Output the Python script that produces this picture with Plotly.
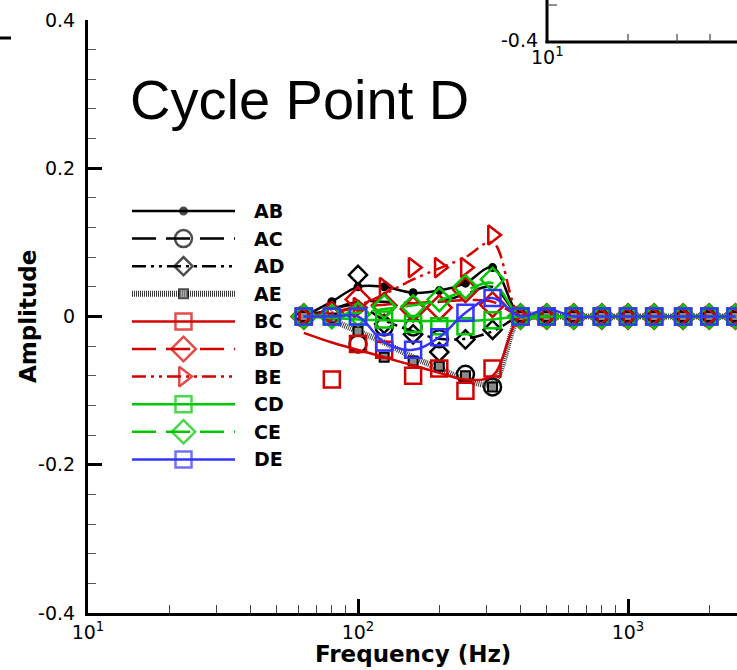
import plotly.graph_objects as go

# ---------------- data ----------------
freq = [63, 80, 100, 125, 160, 200, 250, 315, 400, 500, 630, 800, 1000, 1250, 1600, 2000, 2500]
names = ["AB", "AC", "AD", "AE", "BC", "BD", "BE", "CD", "CE", "DE"]

# marker values
ab_pts = [0, 0.02, 0.04, 0.04, 0.032, 0.035, 0.045, 0.066, 0, 0, 0, 0, 0, 0, 0, 0, 0]
ac_pts = [0, 0.0, -0.037, -0.014, -0.014, -0.03, -0.078, -0.095, 0, 0, 0, 0, 0, 0, 0, 0, 0]
ad_pts = [0, 0.003, 0.056, -0.01, -0.024, -0.048, -0.031, -0.018, 0, 0, 0, 0, 0, 0, 0, 0, 0]
ae_pts = [0, -0.002, -0.02, -0.055, -0.06, -0.067, -0.08, -0.095, 0, 0, 0, 0, 0, 0, 0, 0, 0]
bc_pts = [0, -0.085, -0.037, -0.045, -0.08, -0.07, -0.1, -0.07, 0, 0, 0, 0, 0, 0, 0, 0, 0]
bd_pts = [0, 0.003, 0.023, 0.015, 0.01, 0.012, 0.036, 0.016, 0, 0, 0, 0, 0, 0, 0, 0, 0]
be_pts = [0, 0.005, 0.012, 0.039, 0.066, 0.066, 0.066, 0.11, 0, 0, 0, 0, 0, 0, 0, 0, 0]
cd_pts = [0, 0, 0, -0.004, -0.01, -0.013, -0.013, -0.005, 0, 0, 0, 0, 0, 0, 0, 0, 0]
ce_pts = [0, 0, 0.003, 0.013, 0.013, 0.023, 0.04, 0.05, 0, 0, 0, 0, 0, 0, 0, 0, 0]
de_pts = [0, 0, 0, -0.035, -0.045, -0.028, 0.005, 0.025, 0, 0, 0, 0, 0, 0, 0, 0, 0]

# fitted curve values
ab_fit = [0, 0.02, 0.04, 0.04, 0.032, 0.035, 0.045, 0.066, 0, 0, 0, 0, 0, 0, 0, 0, 0]
ac_fit = [0, 0.01, 0.02, 0.02, 0.018, 0.02, 0.03, 0.04, 0, 0, 0, 0, 0, 0, 0, 0, 0]
ad_fit = [0, 0.01, 0.015, -0.005, -0.02, -0.03, -0.03, -0.02, 0, 0, 0, 0, 0, 0, 0, 0, 0]
ae_fit = [0.01, -0.005, -0.02, -0.035, -0.055, -0.07, -0.085, -0.09, 0, 0, 0, 0, 0, 0, 0, 0, 0]
bc_fit = [-0.022, -0.035, -0.045, -0.055, -0.066, -0.076, -0.085, -0.08, 0, 0, 0, 0, 0, 0, 0, 0, 0]
bd_fit = [0, 0.005, 0.012, 0.016, 0.018, 0.02, 0.022, 0.02, 0, 0, 0, 0, 0, 0, 0, 0, 0]
be_fit = [0, 0.005, 0.015, 0.03, 0.05, 0.065, 0.08, 0.1, 0, 0, 0, 0, 0, 0, 0, 0, 0]
cd_fit = [0, -0.002, -0.004, -0.005, -0.006, -0.006, -0.006, -0.004, 0, 0, 0, 0, 0, 0, 0, 0, 0]
ce_fit = [0, 0.002, 0.005, 0.01, 0.015, 0.022, 0.035, 0.045, 0, 0, 0, 0, 0, 0, 0, 0, 0]
de_fit = [0, 0, 0, -0.035, -0.045, -0.028, 0.005, 0.025, 0, 0.01, 0, 0, 0, 0, 0, 0, 0]

x_tickvals = [10, 100, 1000]
x_ticktext = ["10<sup>1</sup>", "10<sup>2</sup>", "10<sup>3</sup>"]
x_minor = [20, 30, 40, 50, 60, 70, 80, 90, 200, 300, 400, 500, 600, 700, 800, 900, 2000, 3000]
y_tickvals = [-0.4, -0.2, 0, 0.2, 0.4]
y_ticktext = ["-0.4", "-0.2", "0", "0.2", "0.4"]

# ---------------- styles ----------------
RED = "#d40000"
GREEN = "#00c800"
BLUE = "#3434ff"
BLACK = "#000000"
DASH = "24px,10px"
DDOT = "14px,5px,3px,5px,3px,5px"

styles = {
    "AB": dict(color=BLACK, dash="solid", width=2.5, symbol="circle", msize=7, fill=BLACK, lc=BLACK),
    "AC": dict(color=BLACK, dash=DASH, width=2.5, symbol="circle-open", msize=17, fill=None, lc=BLACK),
    "AD": dict(color=BLACK, dash=DDOT, width=2.5, symbol="diamond-open", msize=14, fill=None, lc=BLACK),
    "AE": dict(color="#3a3a3a", dash="1px,1px", width=6, symbol="square", msize=9, fill="#8a8a8a", lc=BLACK),
    "BC": dict(color=RED, dash="solid", width=2.5, symbol="square-open", msize=16, fill=None, lc=RED),
    "BD": dict(color=RED, dash=DASH, width=2.5, symbol="diamond-open", msize=19, fill=None, lc=RED),
    "BE": dict(color=RED, dash=DDOT, width=2.5, symbol="triangle-right-open", msize=17, fill=None, lc=RED),
    "CD": dict(color=GREEN, dash="solid", width=2.5, symbol="square-open", msize=16, fill=None, lc=GREEN),
    "CE": dict(color=GREEN, dash=DASH, width=2.5, symbol="diamond-open", msize=18, fill=None, lc=GREEN),
    "DE": dict(color=BLUE, dash="solid", width=2.5, symbol="square-open", msize=16, fill=None, lc=BLUE),
}

pts = dict(AB=ab_pts, AC=ac_pts, AD=ad_pts, AE=ae_pts, BC=bc_pts, BD=bd_pts, BE=be_pts,
           CD=cd_pts, CE=ce_pts, DE=de_pts)
fits = dict(AB=ab_fit, AC=ac_fit, AD=ad_fit, AE=ae_fit, BC=bc_fit, BD=bd_fit, BE=be_fit,
            CD=cd_fit, CE=ce_fit, DE=de_fit)

# ---------------- geometry (pixels) ----------------
W, H = 737, 670
ML, MR, MT, MB = 88, 0, 20, 57
PW = W - ML - MR
PH = H - MT - MB


def px(xp):
    return (xp - ML) / PW


def py(yp):
    return (H - MB - yp) / PH


TICKFONT = dict(family="DejaVu Sans", size=19, color="black")
BOLD = "DejaVu Sans"

fig = go.Figure()

for n in names:
    s = styles[n]
    fig.add_trace(go.Scatter(
        x=freq, y=fits[n], mode="lines", line_shape="spline",
        line=dict(color=s["color"], width=s["width"], dash=s["dash"]),
        showlegend=False, hoverinfo="skip", xaxis="x", yaxis="y"))
    mk = dict(symbol=s["symbol"], size=s["msize"], line=dict(color=s["lc"], width=2.5))
    if s["fill"] is not None:
        mk["color"] = s["fill"]
        mk["line"] = dict(color=s["lc"], width=2)
    else:
        mk["color"] = s["lc"]
    fig.add_trace(go.Scatter(
        x=freq, y=pts[n], mode="markers", marker=mk, name=n,
        showlegend=False, xaxis="x", yaxis="y"))

# ---------------- manual legend (pixel-space overlay axes) ----------------
LX0, LX1, LTX = 132, 235, 252
LY0, LDY = 211, 27.6
for i, n in enumerate(names):
    s = styles[n]
    yrow = LY0 + i * LDY
    mk = dict(symbol=s["symbol"], size=[0, s["msize"], 0], line=dict(color=s["lc"], width=2.5))
    if s["fill"] is not None:
        mk["color"] = s["fill"]
        mk["line"] = dict(color=s["lc"], width=2)
    else:
        mk["color"] = s["lc"]
    fig.add_trace(go.Scatter(
        x=[LX0, (LX0 + LX1) / 2, LX1], y=[yrow] * 3, mode="lines+markers",
        line=dict(color=s["color"], width=s["width"], dash=s["dash"]),
        marker=mk, showlegend=False, hoverinfo="skip", xaxis="x2", yaxis="y2"))
    fig.add_annotation(x=LTX, y=yrow, xref="x2", yref="y2", text="<b>%s</b>" % n,
                       showarrow=False, xanchor="left", yanchor="middle",
                       font=dict(family=BOLD, size=19, color="black"))

# ---------------- layout ----------------
fig.update_layout(
    width=W, height=H,
    margin=dict(l=ML, r=MR, t=MT, b=MB, pad=0),
    paper_bgcolor="white", plot_bgcolor="white",
    showlegend=False,
    xaxis=dict(
        type="log", range=[1, 1 + PW / 270.0], showgrid=False, zeroline=False,
        showline=True, linecolor="black", linewidth=3,
        ticks="inside", ticklen=14, tickwidth=2.5, tickcolor="black",
        tickvals=x_tickvals, ticktext=x_ticktext, tickfont=TICKFONT,
        minor=dict(tickvals=x_minor, ticks="inside", ticklen=8, tickwidth=1.2, tickcolor="#444"),
    ),
    yaxis=dict(
        range=[-0.4, 0.4], showgrid=False, zeroline=False,
        showline=True, linecolor="black", linewidth=3,
        ticks="inside", ticklen=14, tickwidth=2.5, tickcolor="black",
        tickvals=y_tickvals, ticktext=y_ticktext, tickfont=TICKFONT,
        ticklabelstandoff=6,
        minor=dict(dtick=0.04, tick0=-0.4, ticks="inside", ticklen=8, tickwidth=1.2, tickcolor="#555"),
    ),
    xaxis2=dict(range=[ML, W - MR], domain=[0, 1], visible=False, overlaying="x", anchor="y2", fixedrange=True),
    yaxis2=dict(range=[H - MB, MT], domain=[0, 1], visible=False, overlaying="y", anchor="x2", fixedrange=True),
)

# title and axis titles
fig.add_annotation(x=px(128), y=py(99), xref="paper", yref="paper", text="Cycle Point D",
                   showarrow=False, xanchor="left", yanchor="middle",
                   font=dict(family="Liberation Sans, Arial", size=56, color="black"))
fig.add_annotation(x=px(28), y=py(317), xref="paper", yref="paper", text="<b>Amplitude</b>",
                   showarrow=False, textangle=-90, xanchor="center", yanchor="middle",
                   font=dict(family=BOLD, size=23, color="black"))
fig.add_annotation(x=px(413), y=py(654), xref="paper", yref="paper", text="<b>Frequency (Hz)</b>",
                   showarrow=False, xanchor="center", yanchor="middle",
                   font=dict(family=BOLD, size=23, color="black"))

# neighbouring-panel fragments (decoration)
line_k = dict(color="black", width=3)
fig.add_shape(type="line", xref="paper", yref="paper", x0=px(547), x1=px(547), y0=py(43), y1=py(-2), line=line_k)
fig.add_shape(type="line", xref="paper", yref="paper", x0=px(545.5), x1=px(740), y0=py(42), y1=py(42), line=line_k)
fig.add_shape(type="line", xref="paper", yref="paper", x0=px(547), x1=px(557), y0=py(5), y1=py(5),
              line=dict(color="#444", width=1.2))
for xt in [628, 677, 710]:
    fig.add_shape(type="line", xref="paper", yref="paper", x0=px(xt), x1=px(xt), y0=py(42), y1=py(34),
                  line=dict(color="#444", width=1.2))
fig.add_shape(type="line", xref="paper", yref="paper", x0=px(-2), x1=px(11), y0=py(38), y1=py(38), line=line_k)
fig.add_annotation(x=px(540), y=py(40), xref="paper", yref="paper", text="-0.4", showarrow=False,
                   xanchor="right", yanchor="middle", font=TICKFONT)
fig.add_annotation(x=px(547), y=py(56), xref="paper", yref="paper", text="10<sup>1</sup>", showarrow=False,
                   xanchor="center", yanchor="middle", font=TICKFONT)

fig.write_html("out.html", config={"displayModeBar": False},
               post_script="document.body.style.margin='0px';document.body.style.overflow='hidden';")
